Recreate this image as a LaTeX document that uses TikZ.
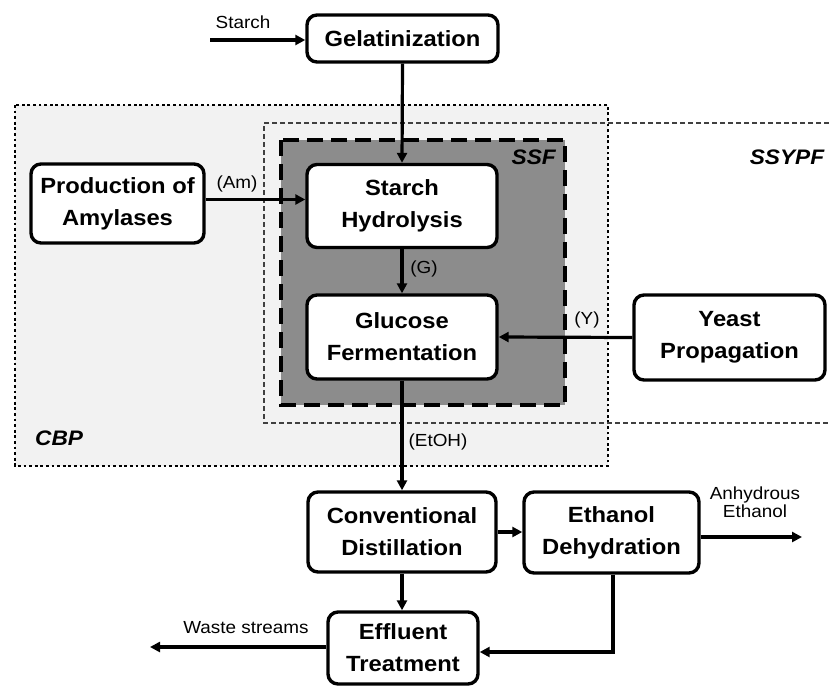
\documentclass[tikz,border=0pt]{standalone}
\usepackage{fontspec}
\setmainfont{Liberation Sans}[FakeStretch=1.08]
\usetikzlibrary{arrows.meta}
\definecolor{cbpfill}{HTML}{F2F2F2}
\definecolor{ssffill}{HTML}{8C8C8C}
\tikzset{
  proc/.style={draw=black, line width=3.4pt, rounded corners=10pt, fill=white, align=center,
    font=\fontsize{22}{32}\selectfont\bfseries, inner sep=0pt},
  arr/.style={line width=3.2pt, -{Triangle[length=10pt,width=10pt]}},
  lbl/.style={font=\fontsize{17.5}{20}\selectfont, inner sep=0pt, align=center},
  reg/.style={font=\fontsize{21}{24}\selectfont\bfseries\itshape, inner sep=0pt}
}
\begin{document}
\begin{tikzpicture}[x=1pt,y=-1pt]
\useasboundingbox (0,0) rectangle (829,688);
% regions
\path[fill=white] (0,0) rectangle (829,688);
\draw[fill=cbpfill, line width=2.8pt, dash pattern=on 2.8pt off 2.8pt] (15,105) rectangle (608,466);
\draw[line width=1.2pt, dash pattern=on 5pt off 3pt, draw=black!75] (829,123) -- (264,123) -- (264,423) -- (829,423);
\draw[fill=ssffill, line width=3.4pt, dash pattern=on 16pt off 8pt] (281,140) rectangle (565,405);
\node[reg, anchor=east] (ssf) at (556,157) {SSF};
\node[reg] (ssypf) at (787,157) {SSYPF};
\node[reg, anchor=west] (cbp) at (35,438) {CBP};
% process nodes
\node[proc, minimum width=191pt, minimum height=47pt] (gel) at (402.5,38.5) {Gelatinization};
\node[proc, minimum width=190pt, minimum height=83pt] (hyd) at (402,206) {Starch\\Hydrolysis};
\node[proc, minimum width=190pt, minimum height=84pt] (glu) at (402,337) {Glucose\\Fermentation};
\node[proc, minimum width=173pt, minimum height=79pt] (prod) at (117.5,203.5) {Production of\\Amylases};
\node[proc, minimum width=191pt, minimum height=85pt] (yeast) at (729.5,337.5) {Yeast\\Propagation};
\node[proc, minimum width=188pt, minimum height=80pt] (dist) at (402,532) {Conventional\\Distillation};
\node[proc, minimum width=175pt, minimum height=81pt] (dehy) at (611.5,532.5) {Ethanol\\Dehydration};
\node[proc, minimum width=150pt, minimum height=72pt] (eff) at (403,648) {Effluent\\Treatment};
% free ends
\coordinate (starchin) at (210,40);
\coordinate (anhout) at (802,537);
\coordinate (wasteout) at (150,647);
\coordinate (bend) at (613,652);
% connectors
\draw[arr] (starchin) -- (starchin -| gel.west);
\node[lbl] (starchlbl) at (243,22) {Starch};
\draw[arr] (gel.south) -- (hyd.north);
\draw[arr] ([yshift=4pt]prod.east) -- ([yshift=4pt]prod.east -| hyd.west);
\node[lbl] (amlbl) at (237,184) {(Am)};
\draw[arr] (hyd.south) -- (glu.north);
\node[lbl] (glbl) at (424,269) {(G)};
\draw[arr] (yeast.west) -- (glu.east);
\node[lbl] (ylbl) at (587,320) {(Y)};
\draw[arr] (glu.south) -- (dist.north);
\node[lbl] (etohlbl) at (438,442) {(EtOH)};
\draw[arr] (dist.east) -- (dist.east -| dehy.west);
\draw[arr] (dehy.east |- anhout) -- (anhout);
\node[lbl] (anhlbl) at (755,502) {Anhydrous\\[-2pt]Ethanol};
\draw[arr] (dist.south) -- (dist.south |- eff.north);
\draw[arr] (bend |- dehy.south) -- (bend) -- (bend -| eff.east);
\draw[arr] (wasteout -| eff.west) -- (wasteout);
\node[lbl] (wastelbl) at (246,628) {Waste streams};
\end{tikzpicture}
\end{document}
